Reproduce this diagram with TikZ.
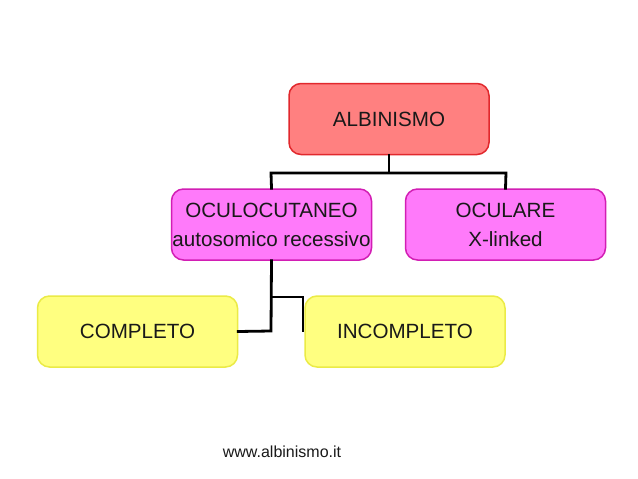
\documentclass[tikz,border=0pt]{standalone}
\usepackage{fontspec}
\setmainfont{Liberation Sans}
\definecolor{redfill}{RGB}{255,128,128}
\definecolor{redline}{RGB}{225,40,45}
\definecolor{magfill}{RGB}{255,122,250}
\definecolor{magline}{RGB}{210,30,180}
\definecolor{yelfill}{RGB}{255,255,128}
\definecolor{yelline}{RGB}{235,235,70}
\definecolor{txt}{RGB}{25,25,25}
\begin{document}
\begin{tikzpicture}[x=1pt,y=-1pt,
  box/.style={rounded corners=12pt,line width=1.5pt,minimum width=200pt,minimum height=71pt,inner sep=0pt,align=center,text=txt,font=\fontsize{20.6}{29}\selectfont},
  rbox/.style={box,fill=redfill,draw=redline},
  mbox/.style={box,fill=magfill,draw=magline},
  ybox/.style={box,fill=yelfill,draw=yelline},
  conn/.style={line width=2.8pt,line cap=rect,line join=miter}]
\useasboundingbox (0,0) rectangle (638,479);
\fill[white] (0,0) rectangle (638,479);
\node[rbox] (alb) at (389,119) {ALBINISMO};
\node[mbox] (ocu) at (271.5,224.5) {OCULOCUTANEO\\autosomico recessivo};
\node[mbox] (ocl) at (505.5,224.5) {OCULARE\\X-linked};
\node[ybox] (com) at (137.5,331.5) {COMPLETO};
\node[ybox] (inc) at (405,331.5) {INCOMPLETO};
\node[font=\fontsize{16}{18}\selectfont,text=txt] (web) at (282,452) {www.albinismo.it};
\coordinate (hb) at (389,173);
\draw[conn] (alb.south) -- (hb);
\draw[conn] (ocu.north) -- (271,173) -- (506,173) -- (ocl.north);
\coordinate (j1) at (271,331);
\coordinate (j2) at (271,297);
\coordinate (j3) at (303,297);
\draw[conn] (ocu.south) -- (j1) -- (com.east);
\draw[conn] (j2) -- (j3) -- (303,331);
\end{tikzpicture}
\end{document}
